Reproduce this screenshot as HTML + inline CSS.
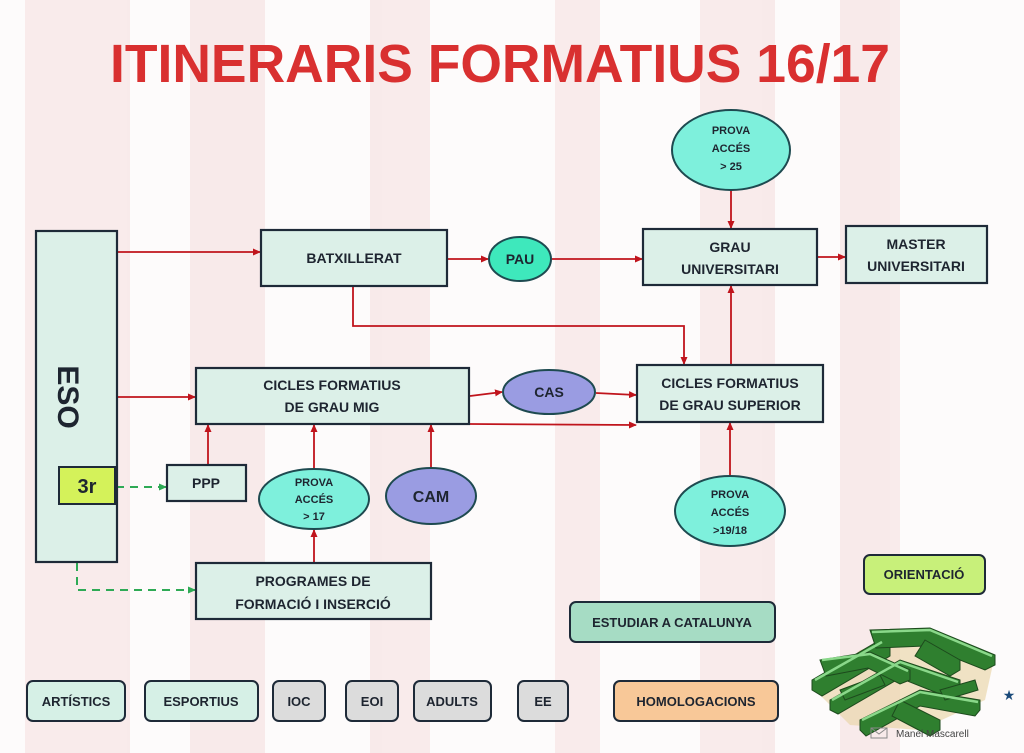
<!DOCTYPE html>
<html><head><meta charset="utf-8"><style>
html,body{margin:0;padding:0;background:#fff;}
svg{display:block;font-family:"Liberation Sans",sans-serif;}
</style></head><body>
<svg width="1024" height="753" viewBox="0 0 1024 753" xmlns="http://www.w3.org/2000/svg">
<defs>
<marker id="ar" markerWidth="8" markerHeight="8" refX="7" refY="4" orient="auto" markerUnits="userSpaceOnUse"><path d="M0,0.5 L8,4 L0,7.5 Z" fill="#c0141c"/></marker>
<marker id="ag" markerWidth="8" markerHeight="8" refX="7" refY="4" orient="auto" markerUnits="userSpaceOnUse"><path d="M0,0.5 L8,4 L0,7.5 Z" fill="#2eaa55"/></marker>
</defs>
<rect width="1024" height="753" fill="#fdfbfb"/>
<g fill="#f8e8e8" opacity="0.85">
<rect x="25" y="0" width="105" height="753"/>
<rect x="190" y="0" width="75" height="753"/>
<rect x="370" y="0" width="60" height="753"/>
<rect x="555" y="0" width="45" height="753"/>
<rect x="700" y="0" width="75" height="753"/>
<rect x="840" y="0" width="60" height="753"/>
</g>
<text x="110" y="82" font-size="54" font-weight="bold" fill="#d93030" textLength="780" lengthAdjust="spacingAndGlyphs">ITINERARIS FORMATIUS 16/17</text>

<g stroke="#c0141c" stroke-width="1.8" fill="none">
<line x1="118" y1="252" x2="260" y2="252" marker-end="url(#ar)"/>
<line x1="448" y1="259" x2="488" y2="259" marker-end="url(#ar)"/>
<line x1="552" y1="259" x2="642" y2="259" marker-end="url(#ar)"/>
<line x1="818" y1="257" x2="845" y2="257" marker-end="url(#ar)"/>
<line x1="731" y1="190" x2="731" y2="228" marker-end="url(#ar)"/>
<polyline points="353,287 353,326 684,326 684,364" marker-end="url(#ar)"/>
<line x1="731" y1="365" x2="731" y2="286" marker-end="url(#ar)"/>
<line x1="118" y1="397" x2="195" y2="397" marker-end="url(#ar)"/>
<line x1="470" y1="396" x2="502" y2="392" marker-end="url(#ar)"/>
<line x1="596" y1="393" x2="636" y2="395" marker-end="url(#ar)"/>
<line x1="470" y1="424" x2="636" y2="425" marker-end="url(#ar)"/>
<line x1="208" y1="465" x2="208" y2="425" marker-end="url(#ar)"/>
<line x1="314" y1="469" x2="314" y2="425" marker-end="url(#ar)"/>
<line x1="431" y1="468" x2="431" y2="425" marker-end="url(#ar)"/>
<line x1="314" y1="562" x2="314" y2="530" marker-end="url(#ar)"/>
<line x1="730" y1="476" x2="730" y2="423" marker-end="url(#ar)"/>
</g>
<g stroke="#2eaa55" stroke-width="2" fill="none" stroke-dasharray="8,6">
<line x1="116" y1="487" x2="166" y2="487" marker-end="url(#ag)"/>
<polyline points="77,563 77,590 195,590" marker-end="url(#ag)"/>
</g>

<g stroke="#1e2a38" stroke-width="2.2" fill="#dcf0e8">
<rect x="36" y="231" width="81" height="331"/>
<rect x="261" y="230" width="186" height="56"/>
<rect x="643" y="229" width="174" height="56"/>
<rect x="846" y="226" width="141" height="57"/>
<rect x="196" y="368" width="273" height="56"/>
<rect x="637" y="365" width="186" height="57"/>
<rect x="167" y="465" width="79" height="36"/>
<rect x="196" y="563" width="235" height="56"/>
</g>
<rect x="59" y="467" width="56" height="37" fill="#d4f25a" stroke="#1e2a38" stroke-width="2"/>
<g stroke="#1e4a50" stroke-width="2">
<ellipse cx="731" cy="150" rx="59" ry="40" fill="#7ef0dc"/>
<ellipse cx="520" cy="259" rx="31" ry="22" fill="#3ee8bc"/>
<ellipse cx="549" cy="392" rx="46" ry="22" fill="#9a9ce2"/>
<ellipse cx="314" cy="499" rx="55" ry="30" fill="#7ef0dc"/>
<ellipse cx="431" cy="496" rx="45" ry="28" fill="#9a9ce2"/>
<ellipse cx="730" cy="511" rx="55" ry="35" fill="#7ef0dc"/>
</g>

<g font-weight="bold" fill="#1e2530" text-anchor="middle" font-size="14">
<text x="58" y="397" font-size="30" transform="rotate(90 58 397)">ESO</text>
<text x="87" y="493" font-size="20">3r</text>
<text x="354" y="263">BATXILLERAT</text>
<text x="520" y="264">PAU</text>
<text x="730" y="252">GRAU</text>
<text x="730" y="274">UNIVERSITARI</text>
<text x="916" y="249">MASTER</text>
<text x="916" y="271">UNIVERSITARI</text>
<text x="332" y="390">CICLES FORMATIUS</text>
<text x="332" y="412">DE GRAU MIG</text>
<text x="730" y="388">CICLES FORMATIUS</text>
<text x="730" y="410">DE GRAU SUPERIOR</text>
<text x="549" y="397">CAS</text>
<text x="206" y="488">PPP</text>
<text x="431" y="502" font-size="16">CAM</text>
<text x="313" y="586">PROGRAMES DE</text>
<text x="313" y="609">FORMACIÓ I INSERCIÓ</text>
<g font-size="11">
<text x="731" y="134">PROVA</text><text x="731" y="152">ACCÉS</text><text x="731" y="170">&gt; 25</text>
<text x="314" y="486">PROVA</text><text x="314" y="503">ACCÉS</text><text x="314" y="520">&gt; 17</text>
<text x="730" y="498">PROVA</text><text x="730" y="516">ACCÉS</text><text x="730" y="534">&gt;19/18</text>
</g>
</g>

<g stroke="#1e2a38" stroke-width="2">
<rect x="570" y="602" width="205" height="40" rx="6" fill="#a6dcc4"/>
<rect x="864" y="555" width="121" height="39" rx="6" fill="#c8f07a"/>
<rect x="27" y="681" width="98" height="40" rx="6" fill="#d6f0e6"/>
<rect x="145" y="681" width="113" height="40" rx="6" fill="#d6f0e6"/>
<rect x="273" y="681" width="52" height="40" rx="6" fill="#dcdcdc"/>
<rect x="346" y="681" width="52" height="40" rx="6" fill="#dcdcdc"/>
<rect x="414" y="681" width="77" height="40" rx="6" fill="#dcdcdc"/>
<rect x="518" y="681" width="50" height="40" rx="6" fill="#dcdcdc"/>
<rect x="614" y="681" width="164" height="40" rx="6" fill="#f8c898"/>
</g>
<g font-weight="bold" fill="#1e2530" text-anchor="middle" font-size="13">
<text x="672" y="627">ESTUDIAR A CATALUNYA</text>
<text x="924" y="579">ORIENTACIÓ</text>
<text x="76" y="706">ARTÍSTICS</text>
<text x="201" y="706">ESPORTIUS</text>
<text x="299" y="706">IOC</text>
<text x="372" y="706">EOI</text>
<text x="452" y="706">ADULTS</text>
<text x="543" y="706">EE</text>
<text x="696" y="706">HOMOLOGACIONS</text>
</g>

<!-- maze -->
<g>
<polygon points="815,690 860,650 925,630 995,655 985,700 920,730 850,725" fill="#e8d2a0" opacity="0.6"/>
<g stroke="#1d4a1d" stroke-width="1" fill="#2f7f2f">
<polygon points="812,680 880,640 890,646 890,656 822,696 812,690"/>
<polygon points="870,630 930,628 995,655 995,665 985,670 925,646 876,648"/>
<polygon points="830,700 900,660 960,680 960,690 950,698 900,678 838,714 830,710"/>
<polygon points="860,720 920,690 980,700 980,710 975,716 920,706 866,736 860,730"/>
<polygon points="820,660 870,652 910,670 910,680 900,684 868,668 826,676"/>
<polygon points="900,700 940,720 940,730 930,736 892,716"/>
<polygon points="925,640 960,660 960,670 950,676 915,656"/>
<polygon points="840,690 880,675 885,685 845,700"/>
<polygon points="940,690 975,680 978,690 945,700"/>
</g>
<g stroke="#8ad88a" stroke-width="2.5" fill="none">
<polyline points="815,680 882,642"/>
<polyline points="872,632 930,630 992,656"/>
<polyline points="832,700 900,662 958,682"/>
<polyline points="862,720 920,692 978,702"/>
<polyline points="822,660 870,654 908,671"/>
</g>
</g>
<text x="1009" y="700" font-size="14" fill="#1a4a7a" text-anchor="middle">★</text>
<rect x="871" y="728" width="16" height="10" fill="none" stroke="#888" stroke-width="1"/>
<polyline points="871,728 879,734 887,728" fill="none" stroke="#888"/>
<text x="896" y="737" font-size="10" fill="#444">Manel Mascarell</text>
</svg>
</body></html>
